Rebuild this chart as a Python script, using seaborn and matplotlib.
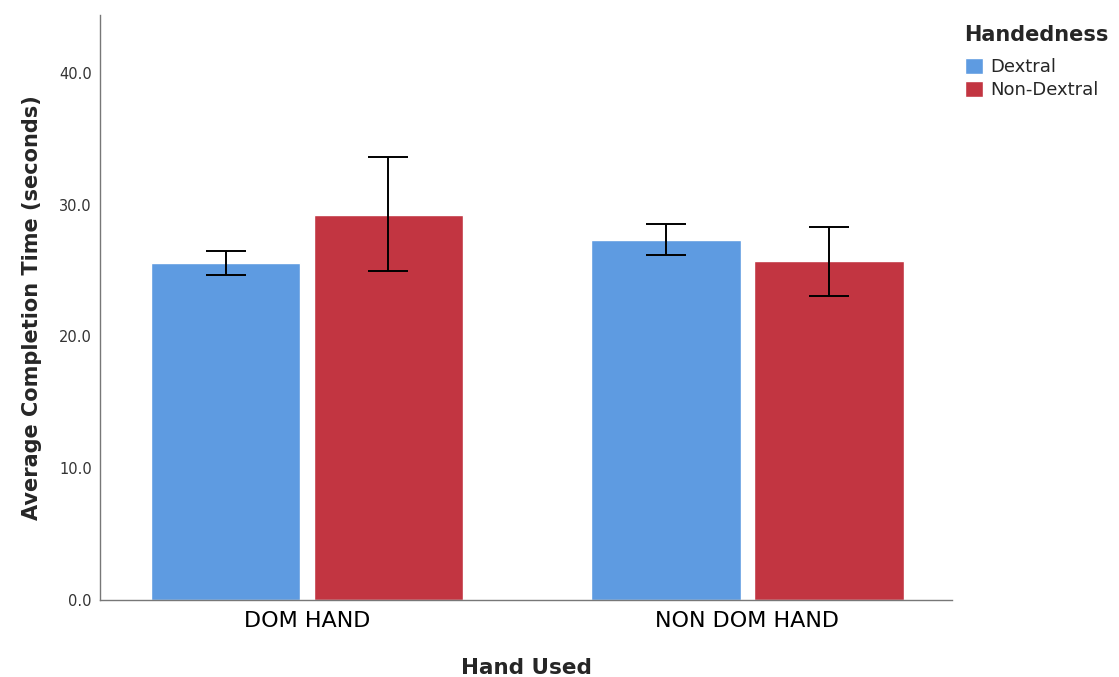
import numpy as np
import pandas as pd
import matplotlib
matplotlib.use("Agg")
import matplotlib.pyplot as plt
import seaborn as sns

# values
hand_used = ["DOM HAND", "DOM HAND", "NON DOM HAND", "NON DOM HAND"]
handedness = ["Dextral", "Non-Dextral", "Dextral", "Non-Dextral"]
mean_time = [25.6, 29.2, 27.3, 25.7]
err_low = [24.7, 25.0, 26.2, 23.1]
err_high = [26.5, 33.6, 28.5, 28.3]

palette = {"Dextral": "#5e9be1", "Non-Dextral": "#c23541"}

df = pd.DataFrame({"Hand Used": hand_used, "Handedness": handedness,
                   "time": mean_time, "lo": err_low, "hi": err_high})

sns.set_style("white")
plt.rcParams['font.family'] = ['DejaVu Sans']

fig = plt.figure(figsize=(11.19, 6.77), dpi=100)
ax = fig.add_axes([0.0894, 0.1137, 0.7614, 0.8643])

sns.barplot(data=df, x="Hand Used", y="time", hue="Handedness",
            palette=palette, errorbar=None, width=0.74, gap=0.08,
            saturation=1, ax=ax)

# error bars from the read-off intervals, placed on the drawn bars
for (hand, grp), container in zip(df.groupby("Handedness", sort=False), ax.containers):
    for bar, (_, row) in zip(container, grp.iterrows()):
        cx = bar.get_x() + bar.get_width() / 2
        ax.errorbar(cx, row["time"],
                    yerr=[[row["time"] - row["lo"]], [row["hi"] - row["time"]]],
                    fmt="none", ecolor="black", elinewidth=1.4,
                    capsize=14.4, capthick=1.4)

ax.set_xlim(-0.47, 1.465)
ax.set_ylim(0, 44.4)
ax.set_yticks([0, 10, 20, 30, 40])
ax.set_yticklabels(["0.0", "10.0", "20.0", "30.0", "40.0"])
ax.tick_params(axis="y", length=0, labelsize=10.5, labelcolor="#333333", pad=6)
ax.tick_params(axis="x", length=0, labelsize=16, labelcolor="black", pad=8)

for s in ["top", "right"]:
    ax.spines[s].set_visible(False)
for s in ["left", "bottom"]:
    ax.spines[s].set_color("#777777")
    ax.spines[s].set_linewidth(1)

ax.set_xlabel("Hand Used", fontsize=15.5, fontweight="bold", labelpad=19)
ax.set_ylabel("Average Completion Time (seconds)", fontsize=15,
              fontweight="bold", labelpad=12)

leg = ax.legend(title="Handedness", loc="upper left",
                bbox_to_anchor=(0.862, 0.963), bbox_transform=fig.transFigure,
                frameon=False, fontsize=13, title_fontproperties={"weight": "bold", "size": 15},
                handlelength=1.0, handleheight=1.0, handletextpad=0.4,
                labelspacing=0.3, borderaxespad=0, borderpad=0)
leg._legend_box.align = "left"
leg._legend_box.sep = 9

fig.savefig("out.png", dpi=100)
